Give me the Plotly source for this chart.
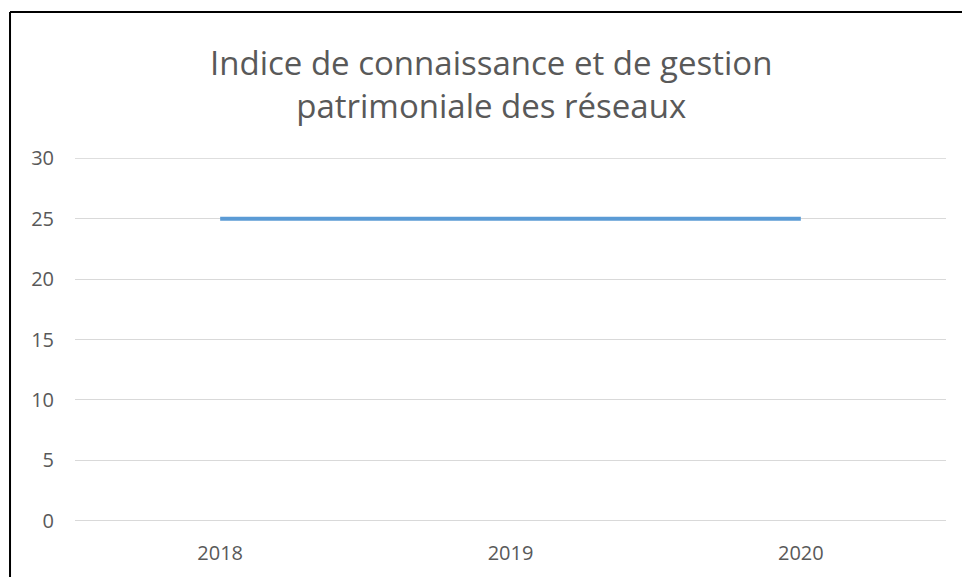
import plotly.graph_objects as go

categories = ["2018", "2019", "2020"]
values = [25, 25, 25]
y_ticks = [0, 5, 10, 15, 20, 25, 30]
title_text = "Indice de connaissance et de gestion<br>patrimoniale des réseaux"

FONT = "Open Sans, sans-serif"
GREY = "#595959"

fig = go.Figure()
fig.add_trace(go.Scatter(x=categories, y=values, mode="lines",
                         line=dict(color="#5B9BD5", width=4), showlegend=False,
                         hoverinfo="skip"))

fig.update_layout(
    width=962, height=577,
    margin=dict(l=75, r=16, t=158, b=56),
    paper_bgcolor="white", plot_bgcolor="white",
    font=dict(family=FONT, color=GREY, size=20),
    xaxis=dict(type="category", range=[-0.5, 2.5], showgrid=False, zeroline=False,
               showline=False, ticks="", ticklabelstandoff=18,
               tickfont=dict(size=20, color=GREY, family=FONT)),
    yaxis=dict(range=[-0.03, 30.03], tickvals=y_ticks, showgrid=True, gridcolor="#D9D9D9",
               gridwidth=1, zeroline=True, zerolinecolor="#D9D9D9", zerolinewidth=1,
               showline=False, ticks="",
               ticklabelstandoff=20, tickfont=dict(size=20, color=GREY, family=FONT)),
    showlegend=False,
)

# top gridline (plotly drops gridlines sitting on the plot edge)
fig.add_shape(type="line", xref="paper", yref="y", x0=0, x1=1, y0=y_ticks[-1], y1=y_ticks[-1],
              line=dict(color="#D9D9D9", width=1), layer="below")

fig.add_annotation(text=title_text, x=0.4776, y=1.204, xref="paper", yref="paper",
                   xanchor="center", yanchor="middle", showarrow=False,
                   font=dict(size=33, color=GREY, family=FONT))

# partial outer border (top and left visible in the reference)
fig.add_shape(type="line", xref="paper", yref="paper", x0=-0.0746, x1=1.0184, y0=1.4022, y1=1.4022,
              line=dict(color="black", width=2))
fig.add_shape(type="line", xref="paper", yref="paper", x0=-0.0746, x1=-0.0746, y0=1.4022, y1=-0.154,
              line=dict(color="black", width=2))

fig.write_html("out.html", config={"displayModeBar": False},
               post_script="document.body.style.margin='0';document.body.style.overflow='hidden';")
